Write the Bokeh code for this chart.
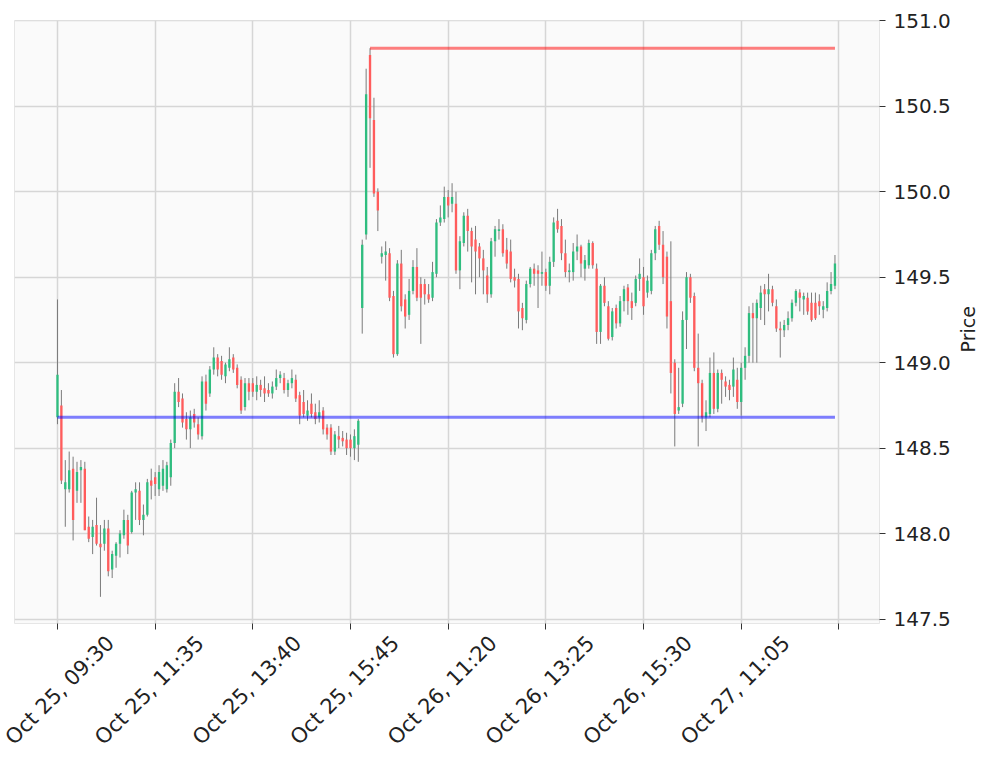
import math
from bokeh.plotting import figure
from bokeh.models import (FixedTicker, Range1d, ColumnDataSource, NumeralTickFormatter,
                          LinearAxis)
from bokeh.embed import file_html
from bokeh.resources import INLINE

# ---- 5-minute bars (index = bar number) ----
opens = [
    148.68, 148.75, 148.26, 148.26, 148.38, 148.25, 148.37, 148.38, 148.04, 147.98,
    148.05, 147.94, 147.94, 148.03, 147.79, 147.87, 147.94, 147.99, 148.08, 148.01,
    148.24, 148.25, 148.08, 148.11, 148.31, 148.33, 148.26, 148.28, 148.26, 148.33,
    148.53, 148.83, 148.79, 148.67, 148.61, 148.70, 148.64, 148.57, 148.89, 148.82,
    148.96, 149.03, 149.01, 148.92, 148.97, 149.03, 148.97, 148.90, 148.74, 148.88,
    148.88, 148.83, 148.87, 148.85, 148.84, 148.82, 148.86, 148.91, 148.91, 148.84,
    148.88, 148.90, 148.81, 148.77, 148.69, 148.76, 148.71, 148.68, 148.72, 148.62,
    148.62, 148.48, 148.57, 148.56, 148.55, 148.55, 148.50, 148.52, 149.32, 149.75,
    150.80, 150.42, 150.00, 149.62, 149.63, 149.64, 149.39, 149.05, 149.58, 149.37,
    149.28, 149.42, 149.56, 149.46, 149.46, 149.40, 149.38, 149.52, 149.82, 149.84,
    149.97, 149.93, 149.93, 149.54, 149.70, 149.86, 149.77, 149.72, 149.68, 149.61,
    149.51, 149.40, 149.71, 149.77, 149.78, 149.66, 149.65, 149.50, 149.49, 149.32,
    149.25, 149.46, 149.55, 149.54, 149.52, 149.53, 149.45, 149.59, 149.83, 149.80,
    149.64, 149.53, 149.53, 149.65, 149.68, 149.55, 149.57, 149.70, 149.55, 149.18,
    149.45, 149.33, 149.15, 149.32, 149.23, 149.36, 149.44, 149.36, 149.35, 149.49,
    149.50, 149.41, 149.42, 149.64, 149.80, 149.69, 149.62, 149.36, 149.00, 148.72,
    148.76, 149.25, 149.50, 149.39, 148.97, 148.88, 148.68, 148.70, 148.94, 148.73,
    148.94, 148.89, 148.87, 148.86, 148.90, 148.77, 148.97, 149.04, 149.29, 149.26,
    149.32, 149.43, 149.40, 149.43, 149.33, 149.20, 149.19, 149.22, 149.26, 149.35,
    149.41, 149.37, 149.38, 149.35, 149.35, 149.36, 149.31, 149.32, 149.42, 149.45,
]
highs = [
    149.37, 148.84, 148.43, 148.48, 148.45, 148.42, 148.43, 148.42, 148.10, 148.08,
    148.21, 148.05, 148.08, 148.08, 147.90, 147.95, 148.02, 148.14, 148.11, 148.25,
    148.30, 148.30, 148.17, 148.32, 148.38, 148.36, 148.40, 148.43, 148.42, 148.55,
    148.88, 148.91, 148.82, 148.71, 148.72, 148.73, 148.68, 148.92, 148.93, 148.98,
    149.09, 149.05, 149.04, 149.00, 149.09, 149.05, 148.99, 148.92, 148.91, 148.91,
    148.91, 148.92, 148.90, 148.92, 148.88, 148.89, 148.96, 148.95, 148.94, 148.90,
    148.96, 148.93, 148.83, 148.84, 148.78, 148.82, 148.76, 148.78, 148.74, 148.64,
    148.64, 148.60, 148.63, 148.60, 148.59, 148.58, 148.61, 148.67, 149.72, 150.72,
    150.84, 150.55, 150.02, 149.68, 149.71, 149.67, 149.42, 149.60, 149.66, 149.40,
    149.49, 149.60, 149.67, 149.50, 149.49, 149.46, 149.59, 149.84, 149.92, 150.03,
    150.01, 150.05, 150.00, 149.74, 149.88, 149.90, 149.79, 149.80, 149.70, 149.66,
    149.56, 149.73, 149.80, 149.84, 149.81, 149.73, 149.72, 149.55, 149.52, 149.35,
    149.48, 149.56, 149.58, 149.57, 149.65, 149.55, 149.62, 149.85, 149.90, 149.84,
    149.72, 149.58, 149.70, 149.75, 149.69, 149.63, 149.72, 149.71, 149.58, 149.46,
    149.50, 149.36, 149.32, 149.34, 149.39, 149.45, 149.46, 149.41, 149.51, 149.61,
    149.56, 149.51, 149.66, 149.80, 149.83, 149.77, 149.65, 149.71, 149.02, 148.97,
    149.30, 149.53, 149.52, 149.41, 149.17, 148.90, 148.78, 149.03, 149.06, 148.96,
    148.96, 148.92, 148.90, 149.03, 148.97, 149.00, 149.09, 149.33, 149.35, 149.37,
    149.45, 149.46, 149.52, 149.45, 149.37, 149.24, 149.25, 149.30, 149.37, 149.43,
    149.43, 149.41, 149.41, 149.41, 149.41, 149.40, 149.36, 149.47, 149.53, 149.63,
]
lows = [
    148.64, 148.29, 148.04, 148.24, 147.96, 148.18, 148.18, 148.02, 147.95, 147.88,
    147.93, 147.63, 147.90, 147.75, 147.74, 147.80, 147.86, 147.97, 147.88, 148.00,
    148.08, 148.05, 147.99, 148.10, 148.20, 148.22, 148.22, 148.25, 148.24, 148.28,
    148.50, 148.74, 148.62, 148.55, 148.50, 148.62, 148.55, 148.55, 148.72, 148.80,
    148.93, 148.92, 148.90, 148.88, 148.95, 148.94, 148.85, 148.70, 148.72, 148.78,
    148.80, 148.78, 148.80, 148.77, 148.80, 148.79, 148.84, 148.88, 148.82, 148.80,
    148.85, 148.77, 148.64, 148.68, 148.66, 148.68, 148.64, 148.65, 148.58, 148.55,
    148.46, 148.46, 148.50, 148.51, 148.46, 148.45, 148.43, 148.42, 149.17, 149.72,
    150.14, 149.97, 149.77, 149.58, 149.48, 149.36, 149.03, 149.04, 149.30, 149.20,
    149.25, 149.40, 149.36, 149.11, 149.34, 149.35, 149.36, 149.50, 149.80, 149.82,
    149.85, 149.88, 149.52, 149.43, 149.68, 149.65, 149.47, 149.40, 149.50, 149.40,
    149.35, 149.38, 149.62, 149.72, 149.62, 149.55, 149.47, 149.44, 149.20, 149.19,
    149.23, 149.44, 149.45, 149.32, 149.45, 149.42, 149.40, 149.56, 149.76, 149.60,
    149.50, 149.47, 149.48, 149.60, 149.50, 149.48, 149.55, 149.55, 149.11, 149.11,
    149.33, 149.13, 149.13, 149.20, 149.21, 149.30, 149.28, 149.25, 149.33, 149.42,
    149.28, 149.38, 149.40, 149.60, 149.66, 149.46, 149.20, 148.82, 148.51, 148.70,
    148.74, 149.08, 149.35, 148.95, 148.51, 148.65, 148.60, 148.68, 148.70, 148.71,
    148.76, 148.80, 148.78, 148.80, 148.73, 148.69, 148.90, 149.00, 149.00, 149.00,
    149.25, 149.22, 149.30, 149.33, 149.18, 149.03, 149.15, 149.19, 149.24, 149.33,
    149.30, 149.28, 149.28, 149.24, 149.25, 149.28, 149.26, 149.30, 149.40, 149.43,
]
closes = [
    148.93, 148.31, 148.30, 148.37, 148.08, 148.36, 148.39, 148.02, 147.97, 148.04,
    147.94, 147.92, 148.03, 147.78, 147.88, 147.94, 148.00, 148.08, 147.93, 148.24,
    148.26, 148.08, 148.11, 148.30, 148.28, 148.29, 148.36, 148.38, 148.40, 148.53,
    148.83, 148.77, 148.65, 148.61, 148.68, 148.65, 148.58, 148.89, 148.76, 148.96,
    149.03, 148.96, 148.93, 148.99, 149.02, 148.96, 148.87, 148.72, 148.88, 148.83,
    148.83, 148.87, 148.84, 148.82, 148.82, 148.86, 148.91, 148.93, 148.84, 148.88,
    148.91, 148.79, 148.69, 148.70, 148.72, 148.70, 148.67, 148.71, 148.61, 148.58,
    148.48, 148.58, 148.55, 148.54, 148.50, 148.50, 148.57, 148.66, 149.69, 150.57,
    150.43, 149.99, 149.89, 149.64, 149.65, 149.38, 149.05, 149.58, 149.33, 149.27,
    149.42, 149.56, 149.38, 149.38, 149.40, 149.37, 149.53, 149.82, 149.85, 149.97,
    149.92, 149.97, 149.54, 149.71, 149.86, 149.77, 149.68, 149.65, 149.61, 149.54,
    149.40, 149.71, 149.78, 149.78, 149.64, 149.58, 149.49, 149.48, 149.30, 149.26,
    149.46, 149.55, 149.52, 149.52, 149.53, 149.45, 149.59, 149.82, 149.78, 149.64,
    149.53, 149.54, 149.65, 149.68, 149.58, 149.60, 149.70, 149.57, 149.18, 149.45,
    149.35, 149.14, 149.30, 149.23, 149.36, 149.43, 149.36, 149.32, 149.49, 149.52,
    149.33, 149.48, 149.64, 149.78, 149.69, 149.50, 149.27, 148.94, 148.70, 148.74,
    149.25, 149.50, 149.38, 148.97, 148.88, 148.68, 148.71, 148.94, 148.73, 148.94,
    148.90, 148.86, 148.84, 148.96, 148.77, 148.97, 149.04, 149.29, 149.26, 149.35,
    149.41, 149.40, 149.43, 149.35, 149.20, 149.19, 149.22, 149.26, 149.35, 149.42,
    149.38, 149.39, 149.30, 149.25, 149.26, 149.33, 149.33, 149.42, 149.46, 149.58,
]

# ---- axis ticks ----
tick_positions = [0, 25, 50, 75, 100, 125, 150, 175, 200]
tick_labels = ["Oct 25, 09:30", "Oct 25, 11:35", "Oct 25, 13:40", "Oct 25, 15:45",
               "Oct 26, 11:20", "Oct 26, 13:25", "Oct 26, 15:30", "Oct 27, 11:05", ""]
price_ticks = [147.5, 148.0, 148.5, 149.0, 149.5, 150.0, 150.5, 151.0]
y_label = "Price"

# ---- horizontal level lines ----
level_values = [148.68, 150.84]
level_start_bar = [0, 80]
level_colors = ["blue", "red"]

UP_COLOR = "#2fbd7f"
DOWN_COLOR = "#ff5c5c"
FONT = "DejaVu Sans"
TEXT_COLOR = "#222222"

X0, X1 = -11.0, 210.4
Y0, Y1 = 147.474, 151.002
FRAME_W = 865
PX_PER_X = FRAME_W / (X1 - X0)
LABEL_SHIFT_PX = 45        # rotated labels are centred on their tick, not end-aligned
Y_TITLE_START = 149.06     # price level where the rotated "Price" title begins

idx = list(range(len(opens)))
src = ColumnDataSource(dict(
    x=idx, o=opens, h=highs, l=lows, c=closes,
    top=[max(o, c) for o, c in zip(opens, closes)],
    bottom=[min(o, c) for o, c in zip(opens, closes)],
    color=[UP_COLOR if c >= o else DOWN_COLOR for o, c in zip(opens, closes)],
))

p = figure(width=997, height=760, output_backend="svg", toolbar_location=None,
           x_range=Range1d(X0, X1), y_range=Range1d(Y0, Y1),
           y_axis_location="right",
           min_border_left=14, min_border_right=118, min_border_top=20, min_border_bottom=137)
p.background_fill_color = "#fafafa"
p.border_fill_color = "white"
p.outline_line_color = "#e6e6e6"
p.outline_line_width = 1

p.segment(x0="x", y0="l", x1="x", y1="h", source=src, line_color="#7a7a7a", line_width=1)
p.vbar(x="x", width=0.6, top="top", bottom="bottom", fill_color="color",
       line_color=None, source=src)

for lvl, st, col in zip(level_values, level_start_bar, level_colors):
    p.line([st, idx[-1]], [lvl, lvl], line_color=col, line_alpha=0.5, line_width=3)

# grid
for g in (p.xgrid, p.ygrid):
    g.grid_line_color = "#d6d6d6"
    g.grid_line_width = 1.5
p.xgrid.ticker = FixedTicker(ticks=tick_positions)
p.ygrid.ticker = FixedTicker(ticks=price_ticks)

# x axis: tick marks only
xa = p.xaxis[0]
xa.ticker = FixedTicker(ticks=tick_positions)
xa.major_label_overrides = {t: "" for t in tick_positions}
xa.major_label_standoff = 0
xa.axis_line_color = None
xa.major_tick_line_color = "#333333"
xa.major_tick_out = 6
xa.major_tick_in = 0
xa.minor_tick_line_color = None

# second x axis carrying the rotated labels (range shifted so labels sit centred on ticks)
shift = LABEL_SHIFT_PX / PX_PER_X
p.extra_x_ranges = {"labels": Range1d(X0 - shift, X1 - shift)}
la = LinearAxis(x_range_name="labels", ticker=FixedTicker(ticks=tick_positions))
la.major_label_overrides = {t: lab for t, lab in zip(tick_positions, tick_labels)}
la.major_label_orientation = math.pi / 4
la.major_label_text_font = FONT
la.major_label_text_font_size = "21px"
la.major_label_text_color = TEXT_COLOR
la.major_label_standoff = 10
la.axis_line_color = None
la.major_tick_line_color = None
la.major_tick_out = 0
la.major_tick_in = 0
la.minor_tick_line_color = None
p.add_layout(la, "below")

# y axis on right (ticks + labels)
ya = p.yaxis[0]
ya.ticker = FixedTicker(ticks=price_ticks)
ya.formatter = NumeralTickFormatter(format="0.0")
ya.axis_line_color = None
ya.major_tick_line_color = "#333333"
ya.major_tick_out = 6
ya.major_tick_in = 0
ya.minor_tick_line_color = None
ya.major_label_text_font = FONT
ya.major_label_text_font_size = "20px"
ya.major_label_text_color = TEXT_COLOR
ya.major_label_standoff = 8

# outer right axis whose single rotated label is the "Price" title
ta = LinearAxis(ticker=FixedTicker(ticks=[Y_TITLE_START]))
ta.major_label_overrides = {Y_TITLE_START: y_label}
ta.major_label_orientation = math.pi / 2
ta.major_label_text_font = FONT
ta.major_label_text_font_size = "19px"
ta.major_label_text_color = TEXT_COLOR
ta.major_label_standoff = 15
ta.axis_line_color = None
ta.major_tick_line_color = None
ta.minor_tick_line_color = None
ta.major_tick_out = 0
ta.major_tick_in = 0
p.add_layout(ta, "right")

open("out.html", "w").write(file_html(p, INLINE))
